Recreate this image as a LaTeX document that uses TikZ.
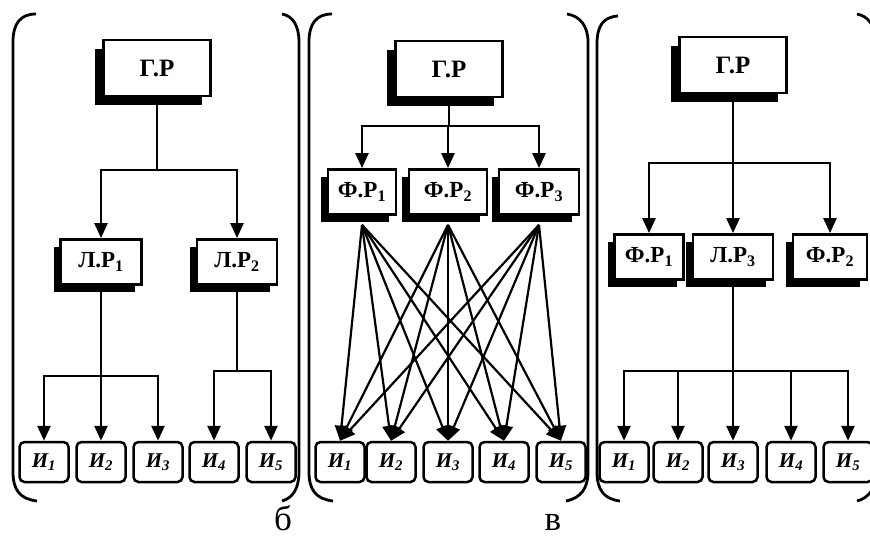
\documentclass[tikz,border=0pt]{standalone}
\usepackage{fontspec}
\setmainfont{Liberation Serif}
\usetikzlibrary{positioning,shadows,arrows.meta}

\begin{document}
\begin{tikzpicture}[x=1pt,y=-1pt,
  sh/.style={general shadow={fill=black, shadow xshift=-#1, shadow yshift=-#1}},
  rbox/.style={draw, line width=2.8pt, fill=white, inner sep=0pt,
    minimum height=45pt, font=\bfseries\fontsize{23}{25}\selectfont},
  gbox/.style={rbox, minimum width=107pt, minimum height=56pt,
    font=\bfseries\fontsize{25}{27}\selectfont},
  ibox/.style={draw, line width=2.5pt, fill=white, rounded corners=5pt,
    inner sep=0pt, minimum width=49pt, minimum height=40pt,
    font=\bfseries\itshape\fontsize{21}{23}\selectfont},
  link/.style={line width=2.6pt},
  arr/.style={link, -{Triangle[width=13pt,length=15pt]}},
  brk/.style={line width=2.8pt},
  caplabel/.style={font=\fontsize{35}{37}\selectfont, anchor=base, inner sep=0pt}]
\useasboundingbox (0,0) rectangle (870,538);
\clip (0,0) rectangle (870,538);

% brackets
\draw[brk] (36,14) .. controls (20,14) and (13,24) .. (13,42) -- (13,472) .. controls (13,490) and (20,499) .. (37,501);
\draw[brk] (282,14) .. controls (293,16) and (299,26) .. (299,42) -- (299,472) .. controls (299,488) and (293,498) .. (282,501);
\draw[brk] (332,14) .. controls (316,14) and (309,24) .. (309,42) -- (309,472) .. controls (309,490) and (316,499) .. (333,501);
\draw[brk] (567,14) .. controls (580,16) and (588,26) .. (588,42) -- (588,472) .. controls (588,488) and (581,498) .. (566,501);
\draw[brk] (618,16) .. controls (603,17) and (597,26) .. (597,44) -- (597,472) .. controls (597,490) and (604,499) .. (620,501);
\draw[brk] (857,14) .. controls (868,16) and (876,26) .. (876,42) -- (876,472) .. controls (876,488) and (869,498) .. (857,501);

% panel b
\node[gbox, sh=9pt] (bGR) at (157,68) {Г.Р};
\node[rbox, sh=7pt, minimum width=81pt] (bLR1) at (101,262) {Л.Р\textsubscript{1}};
\node[rbox, sh=7pt, minimum width=80pt] (bLR2) at (237,262) {Л.Р\textsubscript{2}};
\node[ibox] (bI1) at (44,462) {И\textsubscript{1}};
\node[ibox] (bI2) at (101,462) {И\textsubscript{2}};
\node[ibox] (bI3) at (158,462) {И\textsubscript{3}};
\node[ibox] (bI4) at (214,462) {И\textsubscript{4}};
\node[ibox] (bI5) at (271,462) {И\textsubscript{5}};
\coordinate (bJ1) at (157,170);
\coordinate (bJ2) at (101,376);
\coordinate (bJ3) at (237,371);
\draw[link] (bGR) -- (bJ1);
\draw[arr] (bJ1) -| (bLR1);
\draw[arr] (bJ1) -| (bLR2);
\draw[arr] (bLR1) -- (bI2);
\draw[arr] (bJ2) -| (bI1);
\draw[arr] (bJ2) -| (bI3);
\draw[link] (bLR2) -- (bJ3);
\draw[arr] (bJ3) -| (bI4);
\draw[arr] (bJ3) -| (bI5);
\node[caplabel] (labB) at (283,530) {б};

% panel v
\node[gbox, sh=9pt] (vGR) at (449,69) {Г.Р};
\node[rbox, sh=7pt, minimum width=68pt] (vFR1) at (362,192) {Ф.Р\textsubscript{1}};
\node[rbox, sh=7pt, minimum width=78pt] (vFR2) at (448,192) {Ф.Р\textsubscript{2}};
\node[rbox, sh=7pt, minimum width=80pt] (vFR3) at (539,192) {Ф.Р\textsubscript{3}};
\node[ibox] (vI1) at (340,462) {И\textsubscript{1}};
\node[ibox] (vI2) at (391,462) {И\textsubscript{2}};
\node[ibox] (vI3) at (448,462) {И\textsubscript{3}};
\node[ibox] (vI4) at (504,462) {И\textsubscript{4}};
\node[ibox] (vI5) at (561,462) {И\textsubscript{5}};
\coordinate (vJ1) at (449,126);
\draw[link] (vGR) -- (vJ1);
\draw[arr] (vJ1) -| (vFR1);
\draw[arr] (vJ1) -| (vFR2);
\draw[arr] (vJ1) -| (vFR3);
\foreach \s in {1,2,3}
  \foreach \t in {1,...,5}
    \draw[arr, line width=2.2pt] ([yshift=-9pt]vFR\s.south) -- (vI\t.north);
\node[caplabel] (labV) at (553,530) {в};

% panel c
\node[gbox, sh=9pt] (cGR) at (733,65) {Г.Р};
\node[rbox, sh=7pt, minimum width=69pt] (cFR1) at (649,257) {Ф.Р\textsubscript{1}};
\node[rbox, sh=7pt, minimum width=80pt] (cLR3) at (733,257) {Л.Р\textsubscript{3}};
\node[rbox, sh=7pt, minimum width=74pt] (cFR2) at (830,257) {Ф.Р\textsubscript{2}};
\node[ibox] (cI1) at (624,462) {И\textsubscript{1}};
\node[ibox] (cI2) at (678,462) {И\textsubscript{2}};
\node[ibox] (cI3) at (733,462) {И\textsubscript{3}};
\node[ibox] (cI4) at (791,462) {И\textsubscript{4}};
\node[ibox] (cI5) at (848,462) {И\textsubscript{5}};
\coordinate (cJ1) at (733,163);
\coordinate (cJ2) at (733,371);
\draw[link] (cGR) -- (cJ1);
\draw[arr] (cJ1) -| (cFR1);
\draw[arr] (cJ1) -- (cLR3);
\draw[arr] (cJ1) -| (cFR2);
\draw[arr] (cLR3) -- (cI3);
\draw[arr] (cJ2) -| (cI1);
\draw[arr] (cJ2) -| (cI2);
\draw[arr] (cJ2) -| (cI4);
\draw[arr] (cJ2) -| (cI5);
\end{tikzpicture}
\end{document}
